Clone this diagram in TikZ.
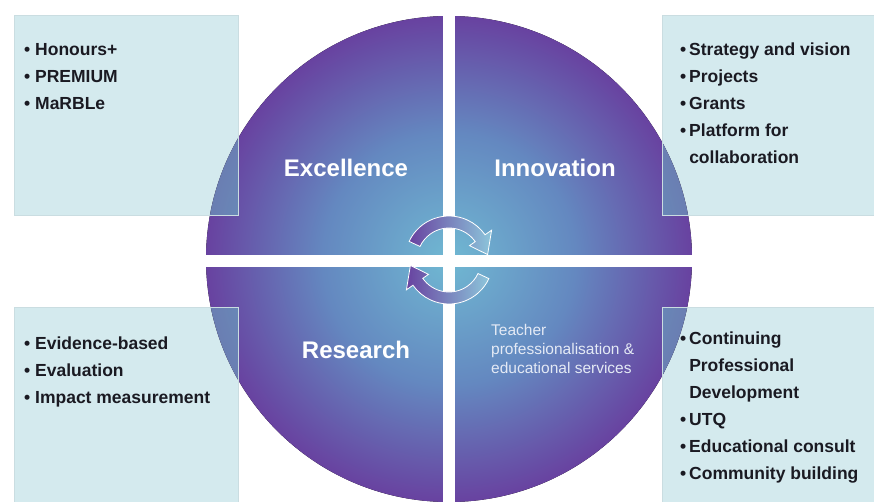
\documentclass[tikz,border=0pt]{standalone}
\usepackage{fontspec}
\setmainfont{Liberation Sans}

\definecolor{boxcyan}{RGB}{212,234,238}
\definecolor{boxtint}{RGB}{110,210,205}
\definecolor{ringpurple}{RGB}{104,66,160}
\definecolor{midblue}{RGB}{100,136,192}
\definecolor{coreteal}{RGB}{112,184,210}
\definecolor{listink}{RGB}{26,26,34}
\definecolor{softwhite}{RGB}{228,234,245}

\pgfdeclareradialshading{quadball}{\pgfpoint{0bp}{0bp}}{color(0bp)=(coreteal); color(13bp)=(midblue); color(25bp)=(ringpurple); color(50bp)=(ringpurple)}

\begin{document}
\begin{tikzpicture}[
  x = 1pt, y = 1pt,
  infobox/.style = {fill = boxcyan, draw = boxcyan!88!gray, line width = 0.5pt},
  quadlabel/.style = {text = white, font = \fontsize{24}{28}\selectfont\bfseries, inner sep = 0pt},
  listtext/.style = {text = listink, font = \fontsize{17.5}{27}\selectfont\bfseries, align = left, inner sep = 0pt, anchor = north west},
  servicetext/.style = {text = softwhite, font = \fontsize{15.5}{19}\selectfont, align = left, inner sep = 0pt, anchor = north west},
  cyclearrow/.style = {left color = ringpurple, right color = coreteal!80!white, draw = white, line width = 0.8pt}
]

\useasboundingbox (0,0) rectangle (874,501);

% boxes behind the circle
\fill[infobox] (14,286) rectangle (238,486);
\fill[infobox] (662,286) rectangle (880,486);
\fill[infobox] (14,-5) rectangle (238,194);
\fill[infobox] (662,-5) rectangle (880,194);

\fill[shading = quadball] (449,242) circle (243pt);

% tint where boxes lie on the circle
\begin{scope}
  \clip (449,242) circle (243pt);
  \fill[boxtint, fill opacity = 0.42] (14,286) rectangle (238,486);
  \fill[boxtint, fill opacity = 0.42] (662,286) rectangle (880,486);
  \fill[boxtint, fill opacity = 0.42] (14,-5) rectangle (238,194);
  \fill[boxtint, fill opacity = 0.42] (662,-5) rectangle (880,194);
\end{scope}
\draw[boxcyan!88!gray, line width = 0.5pt] (14,286) rectangle (238,486);
\draw[boxcyan!88!gray, line width = 0.5pt] (662,286) rectangle (880,486);
\draw[boxcyan!88!gray, line width = 0.5pt] (14,-5) rectangle (238,194);
\draw[boxcyan!88!gray, line width = 0.5pt] (662,-5) rectangle (880,194);

% white cross
\fill[white] (443,-5) rectangle (455,506);
\fill[white] (200,234) rectangle (700,246);

\begin{scope}[shift = {(449,241)}]
  \shadedraw[cyclearrow] (155:44) arc[start angle = 155, end angle = 35, radius = 44pt]
    -- (35:52) -- (8:39) -- (35:25) -- (35:32)
    arc[start angle = 35, end angle = 155, radius = 32pt] -- cycle;
  \shadedraw[cyclearrow] (-25:44) arc[start angle = -25, end angle = -145, radius = 44pt]
    -- (-145:52) -- (-172:39) -- (-145:25) -- (-145:32)
    arc[start angle = -145, end angle = -25, radius = 32pt] -- cycle;
\end{scope}

\node[quadlabel] (excellence) at (346,333) {Excellence};
\node[quadlabel] (innovation) at (555,333) {Innovation};
\node[quadlabel] (research) at (356,151) {Research};
\node[servicetext] (teacher) at (491,177) {Teacher\\professionalisation \&\\educational services};

\node[listtext] (excellist) at (24,458) {\textbullet\ Honours+\\\textbullet\ PREMIUM\\\textbullet\ MaRBLe};
\node[listtext] (innolist) at (680,458) {\textbullet\,Strategy and vision\\\textbullet\,Projects\\\textbullet\,Grants\\\textbullet\,Platform for\\\hphantom{\textbullet\,}collaboration};
\node[listtext] (researchlist) at (24,164) {\textbullet\ Evidence-based\\\textbullet\ Evaluation\\\textbullet\ Impact measurement};
\node[listtext] (teacherlist) at (680,169) {\textbullet\,Continuing\\\hphantom{\textbullet\,}Professional\\\hphantom{\textbullet\,}Development\\\textbullet\,UTQ\\\textbullet\,Educational consult\\\textbullet\,Community building};

\end{tikzpicture}
\end{document}
